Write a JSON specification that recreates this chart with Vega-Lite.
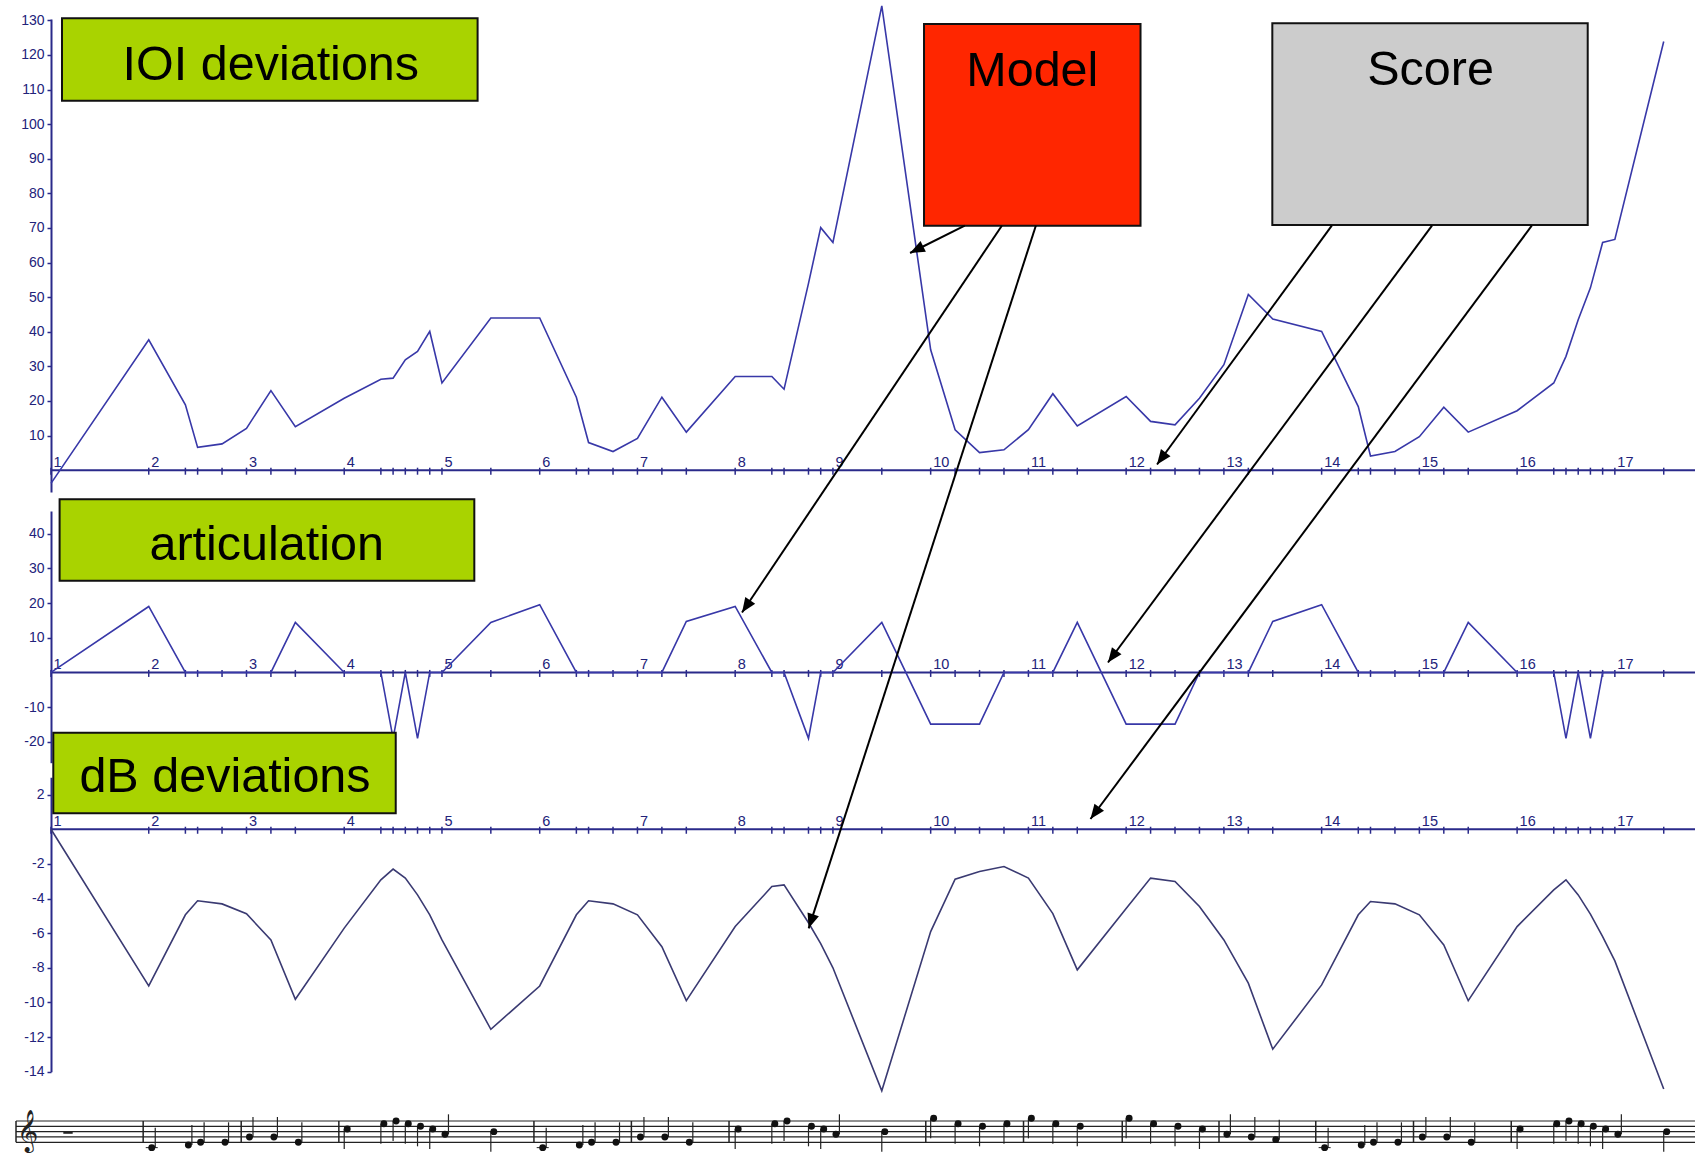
{
  "$schema": "https://vega.github.io/schema/vega-lite/v6.json",
  "width": 1644,
  "height": 1162,
  "autosize": {"type": "none"},
  "padding": {"left": 51, "top": 0, "right": 0, "bottom": 0},
  "background": "#ffffff",
  "config": {"view": {"stroke": null}},
  "datasets": {
    "ioi": [
      {"beat": 1, "v": -3.8}, {"beat": 2, "v": 37.7}, {"beat": 2.375, "v": 18.9}, {"beat": 2.5, "v": 6.6}, {"beat": 2.75, "v": 7.6},
      {"beat": 3, "v": 12.1}, {"beat": 3.25, "v": 23.0}, {"beat": 3.5, "v": 12.6}, {"beat": 4, "v": 20.8}, {"beat": 4.375, "v": 26.3},
      {"beat": 4.5, "v": 26.6}, {"beat": 4.625, "v": 31.9}, {"beat": 4.75, "v": 34.3}, {"beat": 4.875, "v": 40.1}, {"beat": 5, "v": 25.2},
      {"beat": 5.5, "v": 44.0}, {"beat": 6, "v": 44.0}, {"beat": 6.375, "v": 21.1}, {"beat": 6.5, "v": 8.0}, {"beat": 6.75, "v": 5.4},
      {"beat": 7, "v": 9.2}, {"beat": 7.25, "v": 21.1}, {"beat": 7.5, "v": 11.0}, {"beat": 8, "v": 27.1}, {"beat": 8.375, "v": 27.1},
      {"beat": 8.5, "v": 23.4}, {"beat": 8.75, "v": 54.0}, {"beat": 8.875, "v": 70.1}, {"beat": 9, "v": 65.8}, {"beat": 9.5, "v": 134.2},
      {"beat": 10, "v": 34.8}, {"beat": 10.25, "v": 11.7}, {"beat": 10.5, "v": 5.1}, {"beat": 10.75, "v": 5.9}, {"beat": 11, "v": 11.7},
      {"beat": 11.25, "v": 22.1}, {"beat": 11.5, "v": 12.8}, {"beat": 12, "v": 21.3}, {"beat": 12.25, "v": 14.1}, {"beat": 12.5, "v": 13.1},
      {"beat": 12.75, "v": 20.8}, {"beat": 13, "v": 30.5}, {"beat": 13.25, "v": 50.8}, {"beat": 13.5, "v": 43.7}, {"beat": 14, "v": 40.1},
      {"beat": 14.375, "v": 18.4}, {"beat": 14.5, "v": 4.1}, {"beat": 14.75, "v": 5.4}, {"beat": 15, "v": 9.7}, {"beat": 15.25, "v": 18.2},
      {"beat": 15.5, "v": 11.0}, {"beat": 16, "v": 17.2}, {"beat": 16.375, "v": 25.2}, {"beat": 16.5, "v": 32.9}, {"beat": 16.625, "v": 43.5},
      {"beat": 16.75, "v": 52.7}, {"beat": 16.875, "v": 65.8}, {"beat": 17, "v": 66.7}, {"beat": 17.5, "v": 123.9}
    ],
    "art": [
      {"beat": 1, "v": 0}, {"beat": 2, "v": 19}, {"beat": 2.375, "v": 0}, {"beat": 2.5, "v": 0}, {"beat": 2.75, "v": 0},
      {"beat": 3, "v": 0}, {"beat": 3.25, "v": 0}, {"beat": 3.5, "v": 14.4}, {"beat": 4, "v": 0}, {"beat": 4.375, "v": 0},
      {"beat": 4.5, "v": -19}, {"beat": 4.625, "v": 0}, {"beat": 4.75, "v": -19}, {"beat": 4.875, "v": 0}, {"beat": 5, "v": 0},
      {"beat": 5.5, "v": 14.4}, {"beat": 6, "v": 19.5}, {"beat": 6.375, "v": 0}, {"beat": 6.5, "v": 0}, {"beat": 6.75, "v": 0},
      {"beat": 7, "v": 0}, {"beat": 7.25, "v": 0}, {"beat": 7.5, "v": 14.7}, {"beat": 8, "v": 19}, {"beat": 8.375, "v": 0},
      {"beat": 8.5, "v": 0}, {"beat": 8.75, "v": -19}, {"beat": 8.875, "v": 0}, {"beat": 9, "v": 0}, {"beat": 9.5, "v": 14.4},
      {"beat": 10, "v": -14.9}, {"beat": 10.25, "v": -14.9}, {"beat": 10.5, "v": -14.9}, {"beat": 10.75, "v": 0}, {"beat": 11, "v": 0},
      {"beat": 11.25, "v": 0}, {"beat": 11.5, "v": 14.4}, {"beat": 12, "v": -14.9}, {"beat": 12.25, "v": -14.9}, {"beat": 12.5, "v": -14.9},
      {"beat": 12.75, "v": 0}, {"beat": 13, "v": 0}, {"beat": 13.25, "v": 0}, {"beat": 13.5, "v": 14.7}, {"beat": 14, "v": 19.5},
      {"beat": 14.375, "v": 0}, {"beat": 14.5, "v": 0}, {"beat": 14.75, "v": 0}, {"beat": 15, "v": 0}, {"beat": 15.25, "v": 0},
      {"beat": 15.5, "v": 14.4}, {"beat": 16, "v": 0}, {"beat": 16.375, "v": 0}, {"beat": 16.5, "v": -19}, {"beat": 16.625, "v": 0},
      {"beat": 16.75, "v": -19}, {"beat": 16.875, "v": 0}, {"beat": 17, "v": 0}
    ],
    "db": [
      {"beat": 1, "v": 0}, {"beat": 2, "v": -9.05}, {"beat": 2.375, "v": -4.94}, {"beat": 2.5, "v": -4.13}, {"beat": 2.75, "v": -4.31},
      {"beat": 3, "v": -4.88}, {"beat": 3.25, "v": -6.39}, {"beat": 3.5, "v": -9.82}, {"beat": 4, "v": -5.71}, {"beat": 4.375, "v": -2.92},
      {"beat": 4.5, "v": -2.3}, {"beat": 4.625, "v": -2.82}, {"beat": 4.75, "v": -3.79}, {"beat": 4.875, "v": -4.94}, {"beat": 5, "v": -6.39},
      {"beat": 5.5, "v": -11.55}, {"beat": 6, "v": -9.05}, {"beat": 6.375, "v": -4.94}, {"beat": 6.5, "v": -4.13}, {"beat": 6.75, "v": -4.31},
      {"beat": 7, "v": -4.94}, {"beat": 7.25, "v": -6.78}, {"beat": 7.5, "v": -9.9}, {"beat": 8, "v": -5.62}, {"beat": 8.375, "v": -3.31},
      {"beat": 8.5, "v": -3.21}, {"beat": 8.75, "v": -5.4}, {"beat": 8.875, "v": -6.6}, {"beat": 9, "v": -8.0}, {"beat": 9.5, "v": -15.1},
      {"beat": 10, "v": -5.91}, {"beat": 10.25, "v": -2.88}, {"beat": 10.5, "v": -2.44}, {"beat": 10.75, "v": -2.15}, {"beat": 11, "v": -2.82},
      {"beat": 11.25, "v": -4.87}, {"beat": 11.5, "v": -8.12}, {"beat": 12, "v": -4.58}, {"beat": 12.25, "v": -2.82}, {"beat": 12.5, "v": -3.02},
      {"beat": 12.75, "v": -4.46}, {"beat": 13, "v": -6.39}, {"beat": 13.25, "v": -8.89}, {"beat": 13.5, "v": -12.7}, {"beat": 14, "v": -8.99},
      {"beat": 14.375, "v": -4.94}, {"beat": 14.5, "v": -4.17}, {"beat": 14.75, "v": -4.31}, {"beat": 15, "v": -4.94}, {"beat": 15.25, "v": -6.68},
      {"beat": 15.5, "v": -9.9}, {"beat": 16, "v": -5.62}, {"beat": 16.375, "v": -3.5}, {"beat": 16.5, "v": -2.92}, {"beat": 16.625, "v": -3.79},
      {"beat": 16.75, "v": -4.9}, {"beat": 16.875, "v": -6.2}, {"beat": 17, "v": -7.6}, {"beat": 17.5, "v": -15.0}
    ],
    "onsets": [
      {"beat": 1}, {"beat": 2}, {"beat": 2.375}, {"beat": 2.5}, {"beat": 2.75}, {"beat": 3}, {"beat": 3.25}, {"beat": 3.5},
      {"beat": 4}, {"beat": 4.375}, {"beat": 4.5}, {"beat": 4.625}, {"beat": 4.75}, {"beat": 4.875}, {"beat": 5}, {"beat": 5.5},
      {"beat": 6}, {"beat": 6.375}, {"beat": 6.5}, {"beat": 6.75}, {"beat": 7}, {"beat": 7.25}, {"beat": 7.5},
      {"beat": 8}, {"beat": 8.375}, {"beat": 8.5}, {"beat": 8.75}, {"beat": 8.875}, {"beat": 9}, {"beat": 9.5},
      {"beat": 10}, {"beat": 10.25}, {"beat": 10.5}, {"beat": 10.75}, {"beat": 11}, {"beat": 11.25}, {"beat": 11.5},
      {"beat": 12}, {"beat": 12.25}, {"beat": 12.5}, {"beat": 12.75}, {"beat": 13}, {"beat": 13.25}, {"beat": 13.5},
      {"beat": 14}, {"beat": 14.375}, {"beat": 14.5}, {"beat": 14.75}, {"beat": 15}, {"beat": 15.25}, {"beat": 15.5},
      {"beat": 16}, {"beat": 16.375}, {"beat": 16.5}, {"beat": 16.625}, {"beat": 16.75}, {"beat": 16.875}, {"beat": 17}, {"beat": 17.5}
    ],
    "beats": [
      {"beat": 1}, {"beat": 2}, {"beat": 3}, {"beat": 4}, {"beat": 5}, {"beat": 6}, {"beat": 7}, {"beat": 8}, {"beat": 9},
      {"beat": 10}, {"beat": 11}, {"beat": 12}, {"beat": 13}, {"beat": 14}, {"beat": 15}, {"beat": 16}, {"beat": 17}
    ],
    "boxes": [
      {"label": "IOI deviations", "kind": "label", "x0": 1.1125, "x1": 5.3646, "y0": 106.79, "y1": 130.6, "tx": 3.249, "ty": 112.77},
      {"label": "articulation", "kind": "label", "x0": 1.088, "x1": 5.331, "y0": -31.94, "y1": -8.41, "tx": 3.207, "ty": -25.95},
      {"label": "dB deviations", "kind": "label", "x0": 1.0235, "x1": 4.527, "y0": -99.16, "y1": -75.87, "tx": 2.78, "ty": -92.92},
      {"label": "Model", "kind": "model", "x0": 9.932, "x1": 12.147, "y0": 70.66, "y1": 128.96, "tx": 11.04, "ty": 111.04},
      {"label": "Score", "kind": "score", "x0": 13.4955, "x1": 16.7224, "y0": 70.87, "y1": 129.16, "tx": 15.114, "ty": 111.33}
    ],
    "arrows": [
      {"from": "Model", "bx": 10.349, "bv": 70.66, "tx": 9.789, "tv": 62.77},
      {"from": "Model", "bx": 10.728, "bv": 70.66, "tx": 8.07, "tv": -41.13},
      {"from": "Model", "bx": 11.076, "bv": 70.66, "tx": 8.752, "tv": -132.4},
      {"from": "Score", "bx": 14.104, "bv": 70.66, "tx": 12.316, "tv": 1.65},
      {"from": "Score", "bx": 15.129, "bv": 70.66, "tx": 11.814, "tv": -55.58},
      {"from": "Score", "bx": 16.15, "bv": 70.66, "tx": 11.635, "tv": -100.81}
    ],
    "staff": [{"step": 0}, {"step": 2}, {"step": 4}, {"step": 6}, {"step": 8}],
    "bars": [
      {"beat": 0.642}, {"beat": 1.943}, {"beat": 2.946}, {"beat": 3.945}, {"beat": 5.941}, {"beat": 6.938}, {"beat": 7.937},
      {"beat": 9.95}, {"beat": 10.95}, {"beat": 11.96}, {"beat": 12.95}, {"beat": 13.94}, {"beat": 14.94}, {"beat": 15.94}
    ],
    "rests": [{"beat": 1.126, "end": 1.222, "lo": 3.2, "hi": 4.2}],
    "notes": [
      {"beat": 2, "step": -2}, {"beat": 2.375, "step": -1}, {"beat": 2.5, "step": 0}, {"beat": 2.75, "step": 0},
      {"beat": 3, "step": 2}, {"beat": 3.25, "step": 2}, {"beat": 3.5, "step": 0},
      {"beat": 4, "step": 5}, {"beat": 4.375, "step": 7}, {"beat": 4.5, "step": 8}, {"beat": 4.625, "step": 7}, {"beat": 4.75, "step": 6},
      {"beat": 4.875, "step": 5}, {"beat": 5, "step": 3}, {"beat": 5.5, "step": 4},
      {"beat": 6, "step": -2}, {"beat": 6.375, "step": -1}, {"beat": 6.5, "step": 0}, {"beat": 6.75, "step": 0},
      {"beat": 7, "step": 2}, {"beat": 7.25, "step": 2}, {"beat": 7.5, "step": 0},
      {"beat": 8, "step": 5}, {"beat": 8.375, "step": 7}, {"beat": 8.5, "step": 8}, {"beat": 8.75, "step": 6}, {"beat": 8.875, "step": 5},
      {"beat": 9, "step": 3}, {"beat": 9.5, "step": 4},
      {"beat": 10, "step": 9}, {"beat": 10.25, "step": 7}, {"beat": 10.5, "step": 6}, {"beat": 10.75, "step": 7},
      {"beat": 11, "step": 9}, {"beat": 11.25, "step": 7}, {"beat": 11.5, "step": 6},
      {"beat": 12, "step": 9}, {"beat": 12.25, "step": 7}, {"beat": 12.5, "step": 6}, {"beat": 12.75, "step": 5},
      {"beat": 13, "step": 3}, {"beat": 13.25, "step": 2}, {"beat": 13.5, "step": 1},
      {"beat": 14, "step": -2}, {"beat": 14.375, "step": -1}, {"beat": 14.5, "step": 0}, {"beat": 14.75, "step": 0},
      {"beat": 15, "step": 2}, {"beat": 15.25, "step": 2}, {"beat": 15.5, "step": 0},
      {"beat": 16, "step": 5}, {"beat": 16.375, "step": 7}, {"beat": 16.5, "step": 8}, {"beat": 16.625, "step": 7}, {"beat": 16.75, "step": 6},
      {"beat": 16.875, "step": 5}, {"beat": 17, "step": 3}, {"beat": 17.5, "step": 4}
    ]
  },
  "layer": [
    {
      "data": {"values": [{}]},
      "mark": {"type": "rule", "color": "#2a2a8a", "strokeWidth": 2},
      "encoding": {"y": {"datum": 0, "type": "quantitative", "scale": {"domain": [-6.3, 130.4], "range": [492, 19], "nice": false, "zero": false}, "axis": null}}
    },
    {
      "data": {"name": "onsets"},
      "mark": {"type": "tick", "orient": "vertical", "size": 7, "thickness": 1.5, "color": "#2a2a8a", "opacity": 1, "yOffset": 1},
      "encoding": {
        "x": {"field": "beat", "type": "quantitative", "scale": {"domain": [1, 17.82], "nice": false, "zero": false}, "axis": null},
        "y": {"datum": 0, "type": "quantitative", "scale": {"domain": [-6.3, 130.4], "range": [492, 19], "nice": false, "zero": false}, "axis": null}
      }
    },
    {
      "data": {"name": "beats"},
      "mark": {"type": "text", "align": "left", "baseline": "alphabetic", "dx": 2.5, "dy": -3, "fontSize": 14.5, "font": "Liberation Sans", "color": "#22227a"},
      "encoding": {
        "x": {"field": "beat", "type": "quantitative", "scale": {"domain": [1, 17.82], "nice": false, "zero": false}, "axis": null},
        "y": {"datum": 0, "type": "quantitative", "scale": {"domain": [-6.3, 130.4], "range": [492, 19], "nice": false, "zero": false}, "axis": null},
        "text": {"field": "beat", "type": "quantitative"}
      }
    },
    {
      "data": {"name": "ioi"},
      "mark": {"type": "line", "color": "#3838a8", "strokeWidth": 1.6},
      "encoding": {
        "x": {"field": "beat", "type": "quantitative", "scale": {"domain": [1, 17.82], "nice": false, "zero": false}, "axis": null},
        "y": {"field": "v", "type": "quantitative", "scale": {"domain": [-6.3, 130.4], "range": [492, 19], "nice": false, "zero": false},
          "axis": {"orient": "left", "values": [10, 20, 30, 40, 50, 60, 70, 80, 90, 100, 110, 120, 130], "labelExpr": "'' + datum.value", "title": null, "grid": false, "domainColor": "#2a2a8a", "domainWidth": 2, "tickColor": "#2a2a8a", "tickSize": 4, "tickWidth": 1.5, "labelColor": "#22227a", "labelFont": "Liberation Sans", "labelFontSize": 14, "labelPadding": 3, "labelOverlap": false, "labelFlush": false}}
      }
    },
    {
      "data": {"values": [{}]},
      "mark": {"type": "rule", "color": "#2a2a8a", "strokeWidth": 2},
      "encoding": {"y": {"datum": 0, "type": "quantitative", "scale": {"domain": [-26, 46.5], "range": [762.7, 511], "nice": false, "zero": false}, "axis": null}}
    },
    {
      "data": {"name": "onsets"},
      "mark": {"type": "tick", "orient": "vertical", "size": 7, "thickness": 1.5, "color": "#2a2a8a", "opacity": 1, "yOffset": 1},
      "encoding": {
        "x": {"field": "beat", "type": "quantitative", "scale": {"domain": [1, 17.82], "nice": false, "zero": false}, "axis": null},
        "y": {"datum": 0, "type": "quantitative", "scale": {"domain": [-26, 46.5], "range": [762.7, 511], "nice": false, "zero": false}, "axis": null}
      }
    },
    {
      "data": {"name": "beats"},
      "mark": {"type": "text", "align": "left", "baseline": "alphabetic", "dx": 2.5, "dy": -3, "fontSize": 14.5, "font": "Liberation Sans", "color": "#22227a"},
      "encoding": {
        "x": {"field": "beat", "type": "quantitative", "scale": {"domain": [1, 17.82], "nice": false, "zero": false}, "axis": null},
        "y": {"datum": 0, "type": "quantitative", "scale": {"domain": [-26, 46.5], "range": [762.7, 511], "nice": false, "zero": false}, "axis": null},
        "text": {"field": "beat", "type": "quantitative"}
      }
    },
    {
      "data": {"name": "art"},
      "mark": {"type": "line", "color": "#3838a8", "strokeWidth": 1.6},
      "encoding": {
        "x": {"field": "beat", "type": "quantitative", "scale": {"domain": [1, 17.82], "nice": false, "zero": false}, "axis": null},
        "y": {"field": "v", "type": "quantitative", "scale": {"domain": [-26, 46.5], "range": [762.7, 511], "nice": false, "zero": false},
          "axis": {"orient": "left", "values": [-20, -10, 10, 20, 30, 40], "labelExpr": "'' + datum.value", "title": null, "grid": false, "domainColor": "#2a2a8a", "domainWidth": 2, "tickColor": "#2a2a8a", "tickSize": 4, "tickWidth": 1.5, "labelColor": "#22227a", "labelFont": "Liberation Sans", "labelFontSize": 14, "labelPadding": 3, "labelOverlap": false, "labelFlush": false}}
      }
    },
    {
      "data": {"values": [{}]},
      "mark": {"type": "rule", "color": "#2a2a8a", "strokeWidth": 2},
      "encoding": {"y": {"datum": 0, "type": "quantitative", "scale": {"domain": [-14, 3], "range": [1071.7, 777.3], "nice": false, "zero": false}, "axis": null}}
    },
    {
      "data": {"name": "onsets"},
      "mark": {"type": "tick", "orient": "vertical", "size": 7, "thickness": 1.5, "color": "#2a2a8a", "opacity": 1, "yOffset": 1},
      "encoding": {
        "x": {"field": "beat", "type": "quantitative", "scale": {"domain": [1, 17.82], "nice": false, "zero": false}, "axis": null},
        "y": {"datum": 0, "type": "quantitative", "scale": {"domain": [-14, 3], "range": [1071.7, 777.3], "nice": false, "zero": false}, "axis": null}
      }
    },
    {
      "data": {"name": "beats"},
      "mark": {"type": "text", "align": "left", "baseline": "alphabetic", "dx": 2.5, "dy": -3, "fontSize": 14.5, "font": "Liberation Sans", "color": "#22227a"},
      "encoding": {
        "x": {"field": "beat", "type": "quantitative", "scale": {"domain": [1, 17.82], "nice": false, "zero": false}, "axis": null},
        "y": {"datum": 0, "type": "quantitative", "scale": {"domain": [-14, 3], "range": [1071.7, 777.3], "nice": false, "zero": false}, "axis": null},
        "text": {"field": "beat", "type": "quantitative"}
      }
    },
    {
      "data": {"name": "db"},
      "mark": {"type": "line", "color": "#3a3a72", "strokeWidth": 1.6},
      "encoding": {
        "x": {"field": "beat", "type": "quantitative", "scale": {"domain": [1, 17.82], "nice": false, "zero": false}, "axis": null},
        "y": {"field": "v", "type": "quantitative", "scale": {"domain": [-14, 3], "range": [1071.7, 777.3], "nice": false, "zero": false},
          "axis": {"orient": "left", "values": [2, -2, -4, -6, -8, -10, -12, -14], "labelExpr": "'' + datum.value", "title": null, "grid": false, "domainColor": "#2a2a8a", "domainWidth": 2, "tickColor": "#2a2a8a", "tickSize": 4, "tickWidth": 1.5, "labelColor": "#22227a", "labelFont": "Liberation Sans", "labelFontSize": 14, "labelPadding": 3, "labelOverlap": false, "labelFlush": false}}
      }
    },
    {
      "data": {"name": "staff"},
      "mark": {"type": "rule", "color": "#222222", "strokeWidth": 1.2},
      "encoding": {
        "x": {"datum": 0.642, "type": "quantitative", "scale": {"domain": [1, 17.82], "nice": false, "zero": false}, "axis": null},
        "x2": {"datum": 17.82},
        "y": {"field": "step", "type": "quantitative", "scale": {"domain": [0, 8], "range": [1142.3, 1121], "nice": false, "zero": false}, "axis": null}
      }
    },
    {
      "data": {"name": "bars"},
      "mark": {"type": "rule", "color": "#222222", "strokeWidth": 1.5},
      "encoding": {
        "x": {"field": "beat", "type": "quantitative", "scale": {"domain": [1, 17.82], "nice": false, "zero": false}, "axis": null},
        "y": {"datum": 0, "type": "quantitative", "scale": {"domain": [0, 8], "range": [1142.3, 1121], "nice": false, "zero": false}, "axis": null},
        "y2": {"datum": 8}
      }
    },
    {
      "data": {"name": "rests"},
      "mark": {"type": "rect", "color": "#222222"},
      "encoding": {
        "x": {"field": "beat", "type": "quantitative", "scale": {"domain": [1, 17.82], "nice": false, "zero": false}, "axis": null},
        "x2": {"field": "end"},
        "y": {"field": "lo", "type": "quantitative", "scale": {"domain": [0, 8], "range": [1142.3, 1121], "nice": false, "zero": false}, "axis": null},
        "y2": {"field": "hi"}
      }
    },
    {
      "data": {"name": "notes"},
      "transform": [{"filter": "datum.step <= -2"}],
      "mark": {"type": "tick", "orient": "horizontal", "size": 12, "thickness": 1, "color": "#222222", "opacity": 1, "xOffset": 3},
      "encoding": {
        "x": {"field": "beat", "type": "quantitative", "scale": {"domain": [1, 17.82], "nice": false, "zero": false}, "axis": null},
        "y": {"field": "step", "type": "quantitative", "scale": {"domain": [0, 8], "range": [1142.3, 1121], "nice": false, "zero": false}, "axis": null}
      }
    },
    {
      "data": {"name": "notes"},
      "transform": [{"filter": "datum.step < 4"}],
      "mark": {"type": "tick", "orient": "vertical", "size": 20, "thickness": 1.2, "color": "#222222", "opacity": 1, "xOffset": 6.5, "yOffset": -10},
      "encoding": {
        "x": {"field": "beat", "type": "quantitative", "scale": {"domain": [1, 17.82], "nice": false, "zero": false}, "axis": null},
        "y": {"field": "step", "type": "quantitative", "scale": {"domain": [0, 8], "range": [1142.3, 1121], "nice": false, "zero": false}, "axis": null}
      }
    },
    {
      "data": {"name": "notes"},
      "transform": [{"filter": "datum.step >= 4"}],
      "mark": {"type": "tick", "orient": "vertical", "size": 20, "thickness": 1.2, "color": "#222222", "opacity": 1, "xOffset": 0, "yOffset": 10},
      "encoding": {
        "x": {"field": "beat", "type": "quantitative", "scale": {"domain": [1, 17.82], "nice": false, "zero": false}, "axis": null},
        "y": {"field": "step", "type": "quantitative", "scale": {"domain": [0, 8], "range": [1142.3, 1121], "nice": false, "zero": false}, "axis": null}
      }
    },
    {
      "data": {"name": "notes"},
      "mark": {"type": "point", "shape": "circle", "filled": true, "size": 48, "color": "#111111", "opacity": 1, "xOffset": 3},
      "encoding": {
        "x": {"field": "beat", "type": "quantitative", "scale": {"domain": [1, 17.82], "nice": false, "zero": false}, "axis": null},
        "y": {"field": "step", "type": "quantitative", "scale": {"domain": [0, 8], "range": [1142.3, 1121], "nice": false, "zero": false}, "axis": null}
      }
    },
    {
      "data": {"values": [{"glyph": "𝄞", "beat": 0.76, "step": 4}]},
      "mark": {"type": "text", "fontSize": 36, "font": "DejaVu Sans", "baseline": "middle", "align": "center", "color": "#222222"},
      "encoding": {
        "x": {"field": "beat", "type": "quantitative", "scale": {"domain": [1, 17.82], "nice": false, "zero": false}, "axis": null},
        "y": {"field": "step", "type": "quantitative", "scale": {"domain": [0, 8], "range": [1142.3, 1121], "nice": false, "zero": false}, "axis": null},
        "text": {"field": "glyph"}
      }
    },
    {
      "data": {"name": "boxes"},
      "mark": {"type": "rect", "stroke": "#111111", "strokeWidth": 2},
      "encoding": {
        "x": {"field": "x0", "type": "quantitative", "scale": {"domain": [1, 17.82], "nice": false, "zero": false}, "axis": null},
        "x2": {"field": "x1"},
        "y": {"field": "y0", "type": "quantitative", "scale": {"domain": [-6.3, 130.4], "range": [492, 19], "nice": false, "zero": false}, "axis": null},
        "y2": {"field": "y1"},
        "fill": {"field": "kind", "type": "nominal", "scale": {"domain": ["label", "model", "score"], "range": ["#a9d300", "#ff2600", "#cccccc"]}, "legend": null}
      }
    },
    {
      "data": {"name": "boxes"},
      "mark": {"type": "text", "align": "center", "baseline": "alphabetic", "fontSize": 48.5, "font": "Liberation Sans", "color": "#000000"},
      "encoding": {
        "x": {"field": "tx", "type": "quantitative", "scale": {"domain": [1, 17.82], "nice": false, "zero": false}, "axis": null},
        "y": {"field": "ty", "type": "quantitative", "scale": {"domain": [-6.3, 130.4], "range": [492, 19], "nice": false, "zero": false}, "axis": null},
        "text": {"field": "label"}
      }
    },
    {
      "data": {"name": "arrows"},
      "mark": {"type": "rule", "color": "#000000", "strokeWidth": 2},
      "encoding": {
        "x": {"field": "bx", "type": "quantitative", "scale": {"domain": [1, 17.82], "nice": false, "zero": false}, "axis": null},
        "x2": {"field": "tx"},
        "y": {"field": "bv", "type": "quantitative", "scale": {"domain": [-6.3, 130.4], "range": [492, 19], "nice": false, "zero": false}, "axis": null},
        "y2": {"field": "tv"}
      }
    },
    {
      "data": {"name": "arrows"},
      "transform": [{"calculate": "atan2((datum.tx - datum.bx) * 97.74, (datum.tv - datum.bv) * 3.4601) * 180 / PI", "as": "ang"}],
      "mark": {"type": "point", "shape": "M0,0 L-0.85,2.1 L0.85,2.1 Z", "filled": true, "size": 196, "color": "#000000", "opacity": 1, "strokeWidth": 0},
      "encoding": {
        "x": {"field": "tx", "type": "quantitative", "scale": {"domain": [1, 17.82], "nice": false, "zero": false}, "axis": null},
        "y": {"field": "tv", "type": "quantitative", "scale": {"domain": [-6.3, 130.4], "range": [492, 19], "nice": false, "zero": false}, "axis": null},
        "angle": {"field": "ang", "type": "quantitative", "scale": null}
      }
    }
  ],
  "resolve": {"scale": {"y": "independent", "fill": "independent"}, "axis": {"y": "independent"}}
}
